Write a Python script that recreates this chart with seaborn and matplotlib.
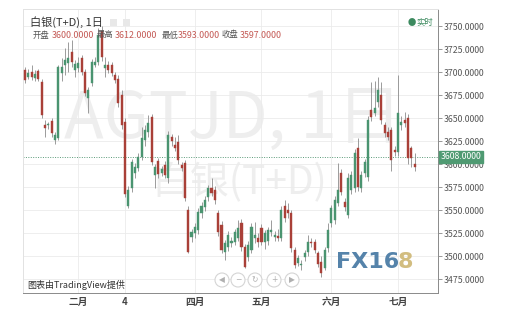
import matplotlib
matplotlib.use("Agg")
import matplotlib.pyplot as plt
from matplotlib.patches import Ellipse, Rectangle
import numpy as np
import pandas as pd
import seaborn as sns

# ---------------- data ----------------
opens = [3702, 3695, 3700, 3694, 3701, 3689, 3643, 3642, 3647, 3626,
         3628, 3699, 3708, 3710, 3722, 3702, 3704, 3715, 3700, 3672,
         3688, 3708, 3711, 3745, 3704, 3708, 3708, 3697, 3693, 3675,
         3646, 3555, 3574, 3590, 3596, 3608, 3626, 3635, 3651, 3588,
         3603, 3590, 3599, 3585, 3629, 3621, 3624, 3599, 3601, 3550,
         3521, 3525, 3528, 3547, 3553, 3564, 3574, 3572, 3547, 3534,
         3504, 3510, 3514, 3515, 3520, 3536, 3510, 3499, 3507, 3520,
         3520, 3531, 3515, 3517, 3526, 3521, 3522, 3520, 3555, 3550,
         3547, 3507, 3493, 3490, 3499, 3504, 3515, 3515, 3503, 3494,
         3487, 3509, 3536, 3539, 3558, 3590, 3559, 3545, 3572, 3574,
         3618, 3574, 3590, 3586, 3659, 3656, 3667, 3675, 3642, 3635,
         3637, 3615, 3613, 3642, 3648, 3650, 3617, 3600]
highs = [3705, 3703, 3708, 3702, 3703, 3692, 3648, 3646, 3650, 3635,
         3708, 3715, 3726, 3733, 3735, 3713, 3716, 3718, 3703, 3684,
         3714, 3716, 3748, 3750, 3716, 3712, 3711, 3700, 3697, 3680,
         3650, 3576, 3606, 3601, 3612, 3640, 3642, 3653, 3654, 3600,
         3607, 3598, 3603, 3636, 3633, 3630, 3632, 3602, 3605, 3555,
         3530, 3536, 3552, 3559, 3565, 3577, 3585, 3576, 3550, 3538,
         3518, 3527, 3521, 3530, 3539, 3540, 3513, 3516, 3536, 3537,
         3525, 3535, 3528, 3532, 3539, 3527, 3530, 3554, 3561, 3558,
         3550, 3510, 3501, 3496, 3507, 3523, 3520, 3519, 3506, 3500,
         3510, 3536, 3556, 3565, 3601, 3595, 3563, 3590, 3593, 3616,
         3628, 3592, 3606, 3652, 3689, 3690, 3695, 3689, 3646, 3640,
         3640, 3620, 3697, 3652, 3657, 3654, 3620, 3612]
lows = [3688, 3692, 3691, 3690, 3690, 3650, 3629, 3638, 3630, 3622,
        3626, 3690, 3697, 3700, 3706, 3695, 3700, 3697, 3674, 3656,
        3685, 3705, 3708, 3712, 3695, 3699, 3696, 3688, 3662, 3638,
        3564, 3552, 3570, 3585, 3592, 3604, 3620, 3630, 3599, 3574,
        3585, 3587, 3585, 3580, 3620, 3614, 3600, 3592, 3560, 3503,
        3515, 3520, 3524, 3542, 3549, 3560, 3565, 3557, 3522, 3503,
        3496, 3506, 3510, 3512, 3516, 3506, 3487, 3495, 3503, 3514,
        3510, 3512, 3508, 3512, 3522, 3517, 3517, 3516, 3537, 3542,
        3505, 3487, 3489, 3485, 3495, 3500, 3510, 3503, 3488, 3477,
        3485, 3505, 3532, 3535, 3555, 3566, 3549, 3541, 3568, 3570,
        3571, 3570, 3586, 3582, 3647, 3652, 3662, 3644, 3630, 3626,
        3593, 3609, 3609, 3637, 3640, 3600, 3597, 3593]
closes = [3691, 3699, 3695, 3698, 3693, 3653, 3639, 3644, 3634, 3632,
          3705, 3705, 3713, 3715, 3711, 3709, 3710, 3700, 3677, 3680,
          3711, 3711, 3740, 3716, 3708, 3702, 3699, 3691, 3666, 3642,
          3568, 3572, 3602, 3597, 3608, 3628, 3637, 3645, 3602, 3597,
          3589, 3595, 3588, 3632, 3625, 3617, 3604, 3596, 3563, 3504,
          3526, 3532, 3548, 3555, 3561, 3574, 3569, 3561, 3526, 3507,
          3514, 3523, 3517, 3526, 3531, 3510, 3488, 3512, 3532, 3523,
          3515, 3515, 3525, 3528, 3528, 3523, 3520, 3550, 3541, 3547,
          3509, 3490, 3498, 3492, 3503, 3515, 3514, 3507, 3492, 3482,
          3507, 3528, 3552, 3561, 3572, 3570, 3553, 3585, 3588, 3612,
          3575, 3588, 3602, 3648, 3651, 3661, 3680, 3648, 3634, 3630,
          3604, 3613, 3655, 3646, 3645, 3607, 3607, 3597]

month_labels = ["二月", "4", "四月", "五月", "六月", "七月"]
month_start_idx = [16, 30, 51, 71, 92, 112]
price_ticks = [3475, 3500, 3525, 3550, 3575, 3600, 3625, 3650, 3675, 3700, 3725, 3750]
last_price = 3608
header_labels = ["开盘", "最高", "最低", "收盘"]
header_values = [3600.0, 3612.0, 3593.0, 3597.0]

# ---------------- style ----------------
sns.set_theme(style="white")
plt.rcParams["font.family"] = ["Noto Sans CJK SC", "DejaVu Sans"]

UP = "#4a9470"
DOWN = "#a94038"
WICK = "#8c8c8c"

W, H = 507, 319
fig = plt.figure(figsize=(W / 100, H / 100), dpi=100)
fig.patch.set_facecolor("white")
ax = fig.add_axes([23 / W, 1 - 293 / H, (438 - 23) / W, (293 - 9) / H])
ax.set_facecolor("white")

df = pd.DataFrame({"open": opens, "high": highs, "low": lows, "close": closes})
df["idx"] = np.arange(len(df))
df["up"] = df["close"] >= df["open"]
df["color"] = np.where(df["up"], UP, DOWN)
df["bottom"] = df[["open", "close"]].min(axis=1)
df["height"] = (df["close"] - df["open"]).abs().clip(lower=1.2)

# watermark
ax.text(0.505, 0.61, "AGTJD, 1日", transform=ax.transAxes, ha="center", va="center",
        fontsize=47, color="#eeeeee", zorder=0)
ax.text(0.52, 0.385, "白银(T+D)", transform=ax.transAxes, ha="center", va="center",
        fontsize=28, color="#eeeeee", zorder=0)

# candles
ax.vlines(df["idx"], df["low"], df["high"], color=WICK, lw=0.6, zorder=2)
ax.bar(df["idx"], df["height"], bottom=df["bottom"], width=0.62,
       color=df["color"], edgecolor=df["color"], linewidth=0.3, zorder=3)

ax.set_xlim(-0.6, 124.0)
ax.set_ylim(3460, 3768.5)

# grid
ax.set_yticks(price_ticks)
ax.set_yticklabels([f"{v:.4f}" for v in price_ticks])
ax.set_xticks(month_start_idx)
ax.set_xticklabels(month_labels, fontweight="bold")
ax.grid(True, color="#ebebeb", lw=0.6, zorder=0)
ax.set_axisbelow(True)

ax.yaxis.tick_right()
ax.tick_params(axis="y", length=3, width=0.6, color="#888888", labelsize=6.3,
               labelcolor="#555555", pad=1, right=True, left=False)
ax.tick_params(axis="x", length=0, labelsize=7, labelcolor="#444444", pad=3)

for side, col in [("right", "#8a8a8a"), ("bottom", "#8a8a8a"), ("top", "#e2e2e2"), ("left", "#e2e2e2")]:
    ax.spines[side].set_visible(True)
    ax.spines[side].set_color(col)
    ax.spines[side].set_linewidth(0.7)

# last price line + label
ax.axhline(last_price, color="#5a9a78", lw=0.7, ls=(0, (1, 1.5)), zorder=1)
ax.annotate(f"{last_price:.4f}", xy=(1.0, last_price),
            xycoords=("axes fraction", "data"), xytext=(2, 0), textcoords="offset points",
            ha="left", va="center", fontsize=6.3, color="white",
            bbox=dict(boxstyle="square,pad=0.15", fc="#4f9a72", ec="#4f9a72"),
            zorder=10, annotation_clip=False)

# header
def px(x, y):
    return x / W, 1 - y / H

fig.text(*px(30, 22), "白银(T+D), 1日", fontsize=8, color="#333333", va="center", ha="left")
for bx in (110, 123):
    fig.add_artist(Rectangle(px(bx, 26), 7 / W, 7 / H, transform=fig.transFigure,
                             fc="#e8e8e8", ec="none"))
label_x = [33, 97, 162, 222]
value_x = [52, 115, 178, 240]
for lab, val, lx, vx in zip(header_labels, header_values, label_x, value_x):
    fig.text(*px(lx, 35), lab, fontsize=6, color="#555555", va="center", ha="left")
    fig.text(*px(vx, 35), f"{val:.4f}", fontsize=6.4, color="#c45a55", va="center", ha="left")

# real-time marker
fig.text(*px(412, 22), "●", fontsize=6, color="#3c8a5f", va="center", ha="center")
fig.text(*px(416, 22), "实时", fontsize=6, color="#3c8a5f", va="center", ha="left")

# attribution
fig.text(*px(27, 285), "图表由TradingView提供", fontsize=6.5, color="#333333", va="center", ha="left")

# navigation buttons
for cx, glyph in zip([222, 238, 255, 274, 292], ["◀", "−", "↻", "+", "▶"]):
    fig.add_artist(Ellipse(px(cx, 280), 14 / W, 14 / H, transform=fig.transFigure,
                           fc="white", ec="#d0d0d0", lw=0.8, alpha=0.9))
    fig.text(*px(cx, 280), glyph, fontsize=5.5, color="#b0b0b0", va="center", ha="center",
             family=["DejaVu Sans"])

# FX168 logo
fig.text(*px(336, 262), "FX16", fontsize=16, fontweight="bold", color="#5583aa",
         va="center", ha="left", family=["DejaVu Sans"])
fig.text(*px(398, 262), "8", fontsize=16, fontweight="bold", color="#d2bd80",
         va="center", ha="left", family=["DejaVu Sans"])

fig.savefig("out.png", dpi=100, facecolor="white")
